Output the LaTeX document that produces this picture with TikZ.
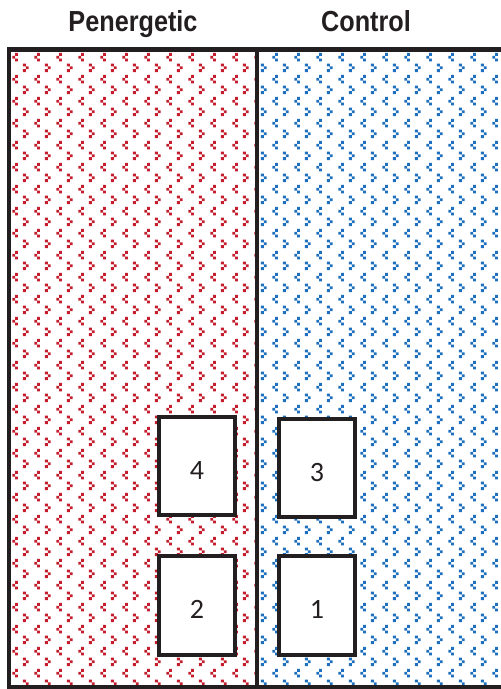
\documentclass[tikz,border=0pt]{standalone}
\usepackage{fontspec}
\setmainfont{Liberation Sans}
\newfontfamily\digitfont{Carlito}
\usetikzlibrary{patterns}
\definecolor{chevred}{RGB}{196,30,46}
\definecolor{chevblue}{RGB}{30,112,190}
\definecolor{frameblack}{RGB}{35,31,32}

% small pixel chevrons, > and < on a staggered grid
\pgfdeclarepatternformonly{chevrons}{\pgfpointorigin}{\pgfpoint{21.7pt}{21.7pt}}{\pgfpoint{21.7pt}{21.7pt}}{
  \pgfpathrectangle{\pgfpoint{1pt}{1pt}}{\pgfpoint{2.8pt}{2.8pt}}
  \pgfpathrectangle{\pgfpoint{3.8pt}{3.8pt}}{\pgfpoint{2.8pt}{2.8pt}}
  \pgfpathrectangle{\pgfpoint{1pt}{6.6pt}}{\pgfpoint{2.8pt}{2.8pt}}
  \pgfpathrectangle{\pgfpoint{15.3pt}{11.85pt}}{\pgfpoint{2.8pt}{2.8pt}}
  \pgfpathrectangle{\pgfpoint{12.5pt}{14.65pt}}{\pgfpoint{2.8pt}{2.8pt}}
  \pgfpathrectangle{\pgfpoint{15.3pt}{17.45pt}}{\pgfpoint{2.8pt}{2.8pt}}
  \pgfusepath{fill}
}

\begin{document}
\begin{tikzpicture}[x=1pt,y=-1pt,
    frame/.style={draw=frameblack,line width=4.3pt},
    title/.style={font=\bfseries\fontsize{29}{30}\selectfont,text=frameblack,xscale=0.87,anchor=base,inner sep=0pt},
    cell/.style={draw=frameblack,line width=4.3pt,fill=white,minimum width=76pt,minimum height=98pt,inner sep=0pt,
        font=\digitfont\fontsize{28}{28}\selectfont,text=frameblack,text height=26pt,text depth=0pt}]
    \useasboundingbox (0,0) rectangle (501,689);
    \clip (0,0) rectangle (501,689);

    \node[title] (pen) at (133,31) {Penergetic};
    \node[title] (ctrl) at (366,31) {Control};

    \fill[pattern=chevrons,pattern color=chevred] (9,49.5) rectangle (257,687);
    \fill[pattern=chevrons,pattern color=chevblue] (257,49.5) rectangle (512,687);
    \draw[frame] (9,49.5) rectangle (512,687);
    \draw[frame] (257,49.5)--(257,687);

    \node[cell] (box4) at (197,466) {4};
    \node[cell] (box3) at (317,468) {3};
    \node[cell,minimum height=99pt] (box2) at (197,605.5) {2};
    \node[cell,minimum height=99pt] (box1) at (317,605.5) {1};
\end{tikzpicture}
\end{document}
